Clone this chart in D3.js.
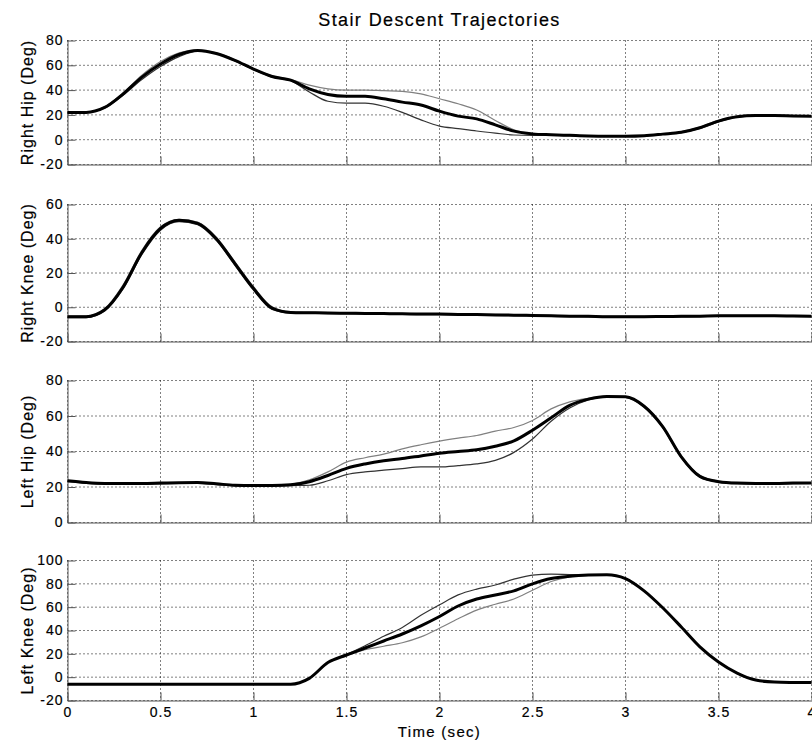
<!DOCTYPE html>
<html>
<head>
<meta charset="utf-8">
<script src="https://cdn.jsdelivr.net/npm/d3@7"></script>
<style>
  html, body { margin: 0; padding: 0; background: #fff; }
  svg { display: block; }
  text { font-family: "Liberation Sans", Arial, Helvetica, sans-serif; fill: #000; }
</style>
</head>
<body>
<div id="chart"></div>
<script>
// Stair descent joint trajectories — mean (thick) with upper/lower bounds (thin)

const time = [0, 0.1, 0.2, 0.3, 0.4, 0.5, 0.6, 0.7, 0.8, 0.9, 1.0, 1.1, 1.2, 1.3, 1.4, 1.5, 1.6, 1.7, 1.8, 1.9,
  2.0, 2.1, 2.2, 2.3, 2.4, 2.5, 2.6, 2.7, 2.8, 2.9, 3.0, 3.1, 3.2, 3.3, 3.4, 3.5, 3.6, 3.7, 3.8, 3.9, 4.0];

const xTicks = [0, 0.5, 1, 1.5, 2, 2.5, 3, 3.5, 4];

const rightHipMean = [22, 22, 26, 37, 50.5, 61, 68.7, 72, 69.5, 64, 57, 51, 48, 41, 36.5, 35, 35, 33, 30.3, 28,
  23, 19, 16.8, 12, 6.9, 4.7, 4, 3.5, 3, 2.8, 2.8, 3.2, 4.5, 6, 9.6, 15, 18.5, 19.5, 19.5, 19.2, 19];
const rightHipUpper = [22, 22, 26.5, 38, 52, 63, 70, 72.5, 70, 64.5, 57, 51.5, 48.5, 44, 41, 40, 40, 39.5, 39, 37,
  33, 29, 24, 15.5, 8, 5, 4, 3.5, 3, 2.8, 2.8, 3.4, 4.8, 6.5, 10.2, 15.6, 18.8, 19.8, 19.8, 19.5, 19.3];
const rightHipLower = [22, 22, 25.5, 36, 48.5, 59, 67, 71.5, 69.5, 63.5, 56.5, 50.5, 47.5, 38.5, 31, 29.5, 29.5, 27, 22, 16,
  11, 9, 7, 5.3, 3.8, 3.5, 3.6, 3.2, 2.8, 2.6, 2.6, 3, 4.2, 5.6, 9, 14.4, 18.2, 19.2, 19.2, 19, 18.8];

const rightKneeMean = [-5.5, -5.5, -1.5, 12, 32, 46, 50.8, 49, 40, 25.5, 11, -0.5, -3, -3.2, -3.4, -3.5, -3.6, -3.7, -3.8, -4,
  -4, -4.2, -4.3, -4.5, -4.6, -4.8, -5, -5.2, -5.3, -5.5, -5.5, -5.5, -5.4, -5.3, -5.2, -5, -5, -5, -5, -5.1, -5.2];
const rightKneeUpper = [-5, -5, -0.8, 13.2, 33.2, 47, 51.4, 49.8, 41, 26.5, 12, 0.3, -2.6, -2.9, -3.1, -3.2, -3.3, -3.4, -3.5, -3.7,
  -3.7, -3.9, -4, -4.2, -4.3, -4.5, -4.7, -4.9, -5, -5.2, -5.2, -5.2, -5.1, -5, -4.9, -4.7, -4.7, -4.7, -4.7, -4.8, -4.9];
const rightKneeLower = [-6, -6, -2.2, 10.8, 30.8, 45, 50, 48.2, 39, 24.5, 10, -1.3, -3.4, -3.5, -3.7, -3.8, -3.9, -4, -4.1, -4.3,
  -4.3, -4.5, -4.6, -4.8, -4.9, -5.1, -5.3, -5.5, -5.6, -5.8, -5.8, -5.8, -5.7, -5.6, -5.5, -5.3, -5.3, -5.3, -5.3, -5.4, -5.5];

const leftHipMean = [23.5, 22.5, 22, 22, 22, 22.2, 22.4, 22.5, 21.8, 21, 20.8, 20.8, 21.2, 23, 26.5, 30.5, 33, 34.8, 36, 37.5,
  39, 40, 41, 43, 46, 52, 59, 66, 69.5, 71, 70.8, 65.5, 54, 37, 26, 23, 22.2, 22, 22, 22.2, 22.3];
const leftHipUpper = [23.5, 22.5, 22, 22, 22, 22.2, 22.4, 22.5, 21.8, 21, 20.8, 20.9, 21.5, 24, 28.5, 34, 36.5, 38.5, 41.5, 43.8,
  45.8, 47.5, 49, 51.5, 53.5, 57.5, 64, 68, 70, 71.2, 71, 66, 54.5, 37.5, 26.5, 23.3, 22.5, 22.2, 22.2, 22.4, 22.5];
const leftHipLower = [23, 22, 21.6, 21.6, 21.6, 21.8, 22, 22, 21.3, 20.6, 20.4, 20.5, 20.8, 21, 23.5, 27, 28.5, 29.5, 30.4, 31.3,
  31.3, 32, 33, 35, 39.5, 47, 57, 64.5, 69, 70.8, 70.5, 65, 53.5, 36.5, 25.5, 22.7, 21.9, 21.7, 21.7, 21.9, 22];

const leftKneeMean = [-6, -6, -6, -6, -6, -6, -6, -6, -6, -6, -6, -6, -6, -1, 12.5, 19, 25, 31, 37, 44,
  52, 61, 67, 70.5, 74, 80, 84.5, 86.5, 87.5, 87.8, 84.5, 74, 59.5, 43, 26, 13, 3.5, -2.5, -4.2, -4.5, -4.6];
const leftKneeUpper = [-6, -6, -6, -6, -6, -6, -6, -6, -6, -6, -6, -6, -6, -1, 12.5, 19.5, 27, 35, 42.5, 53,
  62, 70.5, 75.5, 79, 84, 87.5, 88.3, 88, 87.8, 87.8, 84.5, 74, 59.5, 43, 26, 13, 3.5, -2.5, -4.2, -4.5, -4.6];
const leftKneeLower = [-6, -6, -6, -6, -6, -6, -6, -6, -6, -6, -6, -6, -6, -1, 12.5, 18.5, 23.5, 26.5, 29.5, 34.5,
  42, 50, 57.5, 62.5, 67, 74.5, 82, 86, 87.2, 87.8, 84.5, 74, 59.5, 43, 26, 13, 3.5, -2.5, -4.2, -4.5, -4.6];

const panels = [
  { label: 'Right Hip (Deg)',  domain: [-20, 80],  ticks: [-20, 0, 20, 40, 60, 80],
    mean: rightHipMean, upper: rightHipUpper, lower: rightHipLower, top: 40.5, bottom: 164.5 },
  { label: 'Right Knee (Deg)', domain: [-20, 60],  ticks: [-20, 0, 20, 40, 60],
    mean: rightKneeMean, upper: rightKneeUpper, lower: rightKneeLower, top: 204.5, bottom: 341.5 },
  { label: 'Left Hip (Deg)',   domain: [0, 80],    ticks: [0, 20, 40, 60, 80],
    mean: leftHipMean, upper: leftHipUpper, lower: leftHipLower, top: 380.5, bottom: 522.5 },
  { label: 'Left Knee (Deg)',  domain: [-20, 100], ticks: [-20, 0, 20, 40, 60, 80, 100],
    mean: leftKneeMean, upper: leftKneeUpper, lower: leftKneeLower, top: 560.5, bottom: 700.5 },
];

const W = 812, H = 742;
const left = 67.5, right = 811.5;
const axisColor = '#555';
const fontFamily = '"Liberation Sans", Arial, Helvetica, sans-serif';

const svg = d3.select('#chart').append('svg')
  .attr('width', W)
  .attr('height', H);

const x = d3.scaleLinear().domain([0, 4]).range([left, right]);

// Title
svg.append('text')
  .attr('x', (left + right) / 2)
  .attr('y', 26)
  .attr('text-anchor', 'middle')
  .attr('font-size', '18px')
  .attr('letter-spacing', '1.4px')
  .attr('stroke', '#000')
  .attr('stroke-width', 0.2)
  .text('Stair Descent Trajectories');

panels.forEach((p, pi) => {
  const y = d3.scaleLinear().domain(p.domain).range([p.bottom, p.top]);
  const g = svg.append('g');
  const isLast = pi === panels.length - 1;

  // Dotted grid
  g.append('g')
    .selectAll('line')
    .data(p.ticks)
    .enter().append('line')
    .attr('x1', left).attr('x2', right)
    .attr('y1', d => y(d)).attr('y2', d => y(d))
    .attr('stroke', '#000')
    .attr('stroke-width', 1)
    .attr('stroke-dasharray', '1,3');

  g.append('g')
    .selectAll('line')
    .data(xTicks)
    .enter().append('line')
    .attr('x1', d => x(d)).attr('x2', d => x(d))
    .attr('y1', p.top).attr('y2', p.bottom)
    .attr('stroke', '#000')
    .attr('stroke-width', 1)
    .attr('stroke-dasharray', '1,3');

  // Axes
  const yAxis = g.append('g')
    .attr('transform', `translate(${left},0)`)
    .call(d3.axisLeft(y).tickValues(p.ticks).tickSize(-8).tickSizeOuter(0).tickPadding(4)
      .tickFormat(d => String(d)));

  const xAxis = g.append('g')
    .attr('transform', `translate(0,${p.bottom})`)
    .call(d3.axisBottom(x).tickValues(xTicks).tickSize(-8).tickSizeOuter(0).tickPadding(7)
      .tickFormat(d => isLast ? String(d) : ''));

  [yAxis, xAxis].forEach(a => {
    a.select('.domain').attr('stroke', axisColor);
    a.selectAll('.tick line').attr('stroke', axisColor);
    a.selectAll('text')
      .attr('font-family', fontFamily)
      .attr('font-size', '14px')
      .attr('letter-spacing', '1px')
      .attr('stroke', '#000')
      .attr('stroke-width', 0.2)
      .attr('fill', '#000');
  });

  // Y label
  g.append('text')
    .attr('transform', `translate(33,${(p.top + p.bottom) / 2}) rotate(-90)`)
    .attr('text-anchor', 'middle')
    .attr('font-size', '16px')
    .attr('letter-spacing', '1px')
    .attr('stroke', '#000')
    .attr('stroke-width', 0.2)
    .text(p.label);

  // Lines
  const line = d3.line()
    .x((d, i) => x(time[i]))
    .y(d => y(d))
    .curve(d3.curveMonotoneX);

  g.append('path')
    .datum(p.upper)
    .attr('fill', 'none')
    .attr('stroke', pi === 3 ? '#333' : '#808080')
    .attr('stroke-width', 1.2)
    .attr('d', line);

  g.append('path')
    .datum(p.lower)
    .attr('fill', 'none')
    .attr('stroke', pi === 3 ? '#808080' : '#333')
    .attr('stroke-width', 1.2)
    .attr('d', line);

  g.append('path')
    .datum(p.mean)
    .attr('fill', 'none')
    .attr('stroke', '#000')
    .attr('stroke-width', 3)
    .attr('stroke-linejoin', 'round')
    .attr('d', line);
});

// X label
svg.append('text')
  .attr('x', (left + right) / 2)
  .attr('y', 737)
  .attr('text-anchor', 'middle')
  .attr('font-size', '15px')
  .attr('letter-spacing', '1.3px')
  .attr('stroke', '#000')
  .attr('stroke-width', 0.2)
  .text('Time (sec)');
</script>
</body>
</html>
